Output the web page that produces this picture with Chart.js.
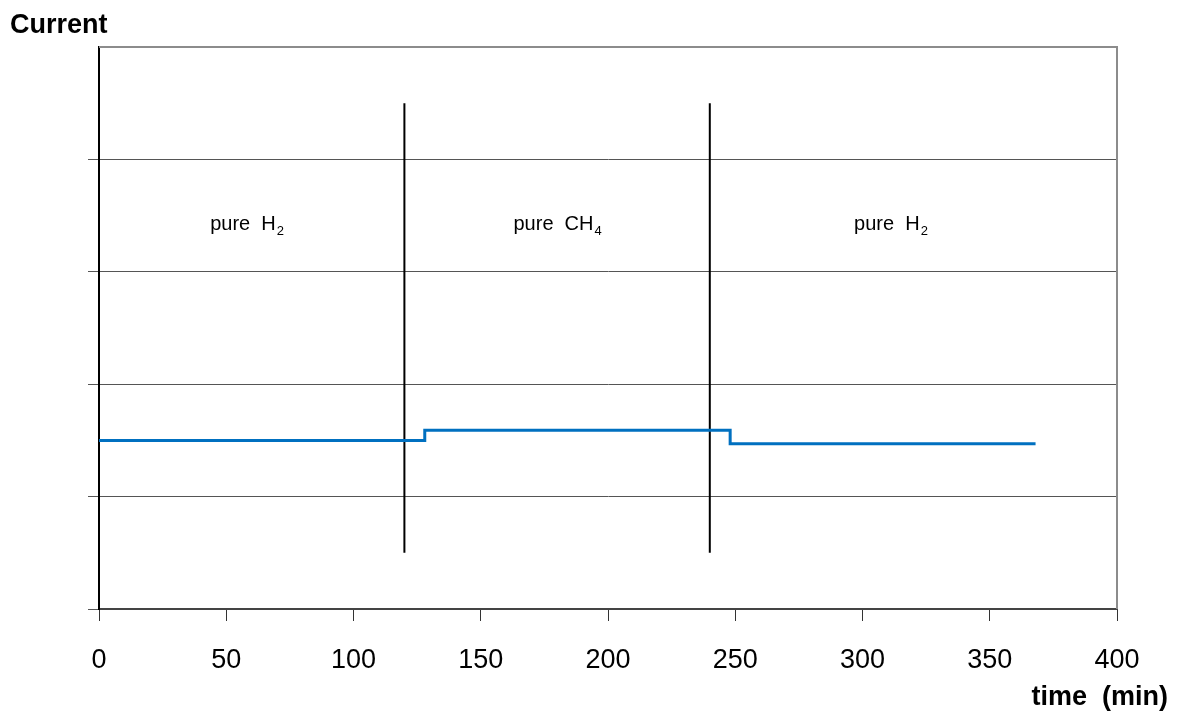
<!DOCTYPE html>
<html>
<head>
<meta charset="utf-8">
<script src="https://cdn.jsdelivr.net/npm/chart.js@4/dist/chart.umd.min.js"></script>
<style>
  html, body { margin: 0; padding: 0; background: #fff; }
  #wrap { width: 1177px; height: 711px; }
</style>
</head>
<body>
<div id="wrap"><canvas id="c" width="1177" height="711"></canvas></div>
<script>
// Measured cell current over time (arbitrary units)
const timeMin = [0, 128, 128, 248, 248, 368];
const current = [1.5, 1.5, 1.59, 1.59, 1.47, 1.47];

// Gas switch markers (min) and their vertical extent
const switchTimes = [120, 240];
const switchSpan = [0.5, 4.5];

// Gas phase labels
const phaseX = [58, 180, 311];
const phaseY = 3.43;
const phaseMain = ['pure  H', 'pure  CH', 'pure  H'];
const phaseSub = ['2', '4', '2'];

const xTicks = [0, 50, 100, 150, 200, 250, 300, 350, 400];

const FONT = '"Liberation Sans", Arial, sans-serif';

const switchSets = switchTimes.map(t => ({
  data: switchSpan.map(v => ({ x: t, y: v })),
  showLine: true,
  borderColor: '#000',
  borderWidth: 2,
  pointRadius: 0,
  order: 2
}));

const textPlugin = {
  id: 'textPlugin',
  afterDraw(chart) {
    const { ctx, scales: { x, y } } = chart;
    ctx.save();
    ctx.fillStyle = '#000';
    ctx.textBaseline = 'alphabetic';
    phaseX.forEach((px, i) => {
      ctx.font = '20px ' + FONT;
      const wMain = ctx.measureText(phaseMain[i]).width;
      ctx.font = '13px ' + FONT;
      const wSub = ctx.measureText(phaseSub[i]).width;
      const cx = x.getPixelForValue(px);
      const base = y.getPixelForValue(phaseY) + 7;
      const left = cx - (wMain + wSub) / 2;
      ctx.font = '20px ' + FONT;
      ctx.textAlign = 'left';
      ctx.fillText(phaseMain[i], left, base);
      ctx.font = '13px ' + FONT;
      ctx.fillText(phaseSub[i], left + wMain + 1, base + 5);
    });
    ctx.font = 'bold 27px ' + FONT;
    ctx.textAlign = 'left';
    ctx.fillText('Current', 10, 33);
    ctx.textAlign = 'right';
    ctx.fillText('time  (min)', 1168, 705);
    // plot frame: top and right edges
    ctx.strokeStyle = '#8c8c8c';
    ctx.lineWidth = 2;
    ctx.beginPath();
    ctx.moveTo(x.left, y.top);
    ctx.lineTo(x.right, y.top);
    ctx.lineTo(x.right, y.bottom);
    ctx.stroke();
    ctx.restore();
  }
};

new Chart(document.getElementById('c'), {
  type: 'scatter',
  data: {
    datasets: [
      {
        data: timeMin.map((t, i) => ({ x: t, y: current[i] })),
        showLine: true,
        borderColor: '#0070c0',
        borderWidth: 3,
        pointRadius: 0,
        order: 1
      },
      ...switchSets
    ]
  },
  options: {
    responsive: false,
    animation: false,
    devicePixelRatio: 1,
    layout: { padding: { left: 0, right: 60, top: 47, bottom: 0 } },
    plugins: { legend: { display: false }, tooltip: { enabled: false } },
    scales: {
      x: {
        type: 'linear',
        min: 0,
        max: 400,
        afterBuildTicks(s) { s.ticks = xTicks.map(v => ({ value: v })); },
        afterFit(s) { s.height = 102; },
        grid: {
          drawOnChartArea: false,
          drawTicks: true,
          tickLength: 12,
          color: '#333',
          lineWidth: 1
        },
        border: { display: true, color: '#444', width: 2 },
        ticks: {
          color: '#000',
          font: { family: FONT, size: 27 },
          padding: 23,
          maxRotation: 0
        }
      },
      y: {
        type: 'linear',
        min: 0,
        max: 5,
        afterBuildTicks(s) { s.ticks = [0, 1, 2, 3, 4, 5].map(v => ({ value: v })); },
        afterFit(s) { s.width = 99; },
        grid: {
          drawOnChartArea: true,
          drawTicks: true,
          tickLength: 11,
          color: ctx => (ctx.tick && ctx.tick.value === 5 ? 'rgba(0,0,0,0)' : '#555'),
          lineWidth: 1
        },
        border: { display: true, color: '#000', width: 2 },
        ticks: { display: false }
      }
    }
  },
  plugins: [textPlugin]
});
</script>
</body>
</html>
